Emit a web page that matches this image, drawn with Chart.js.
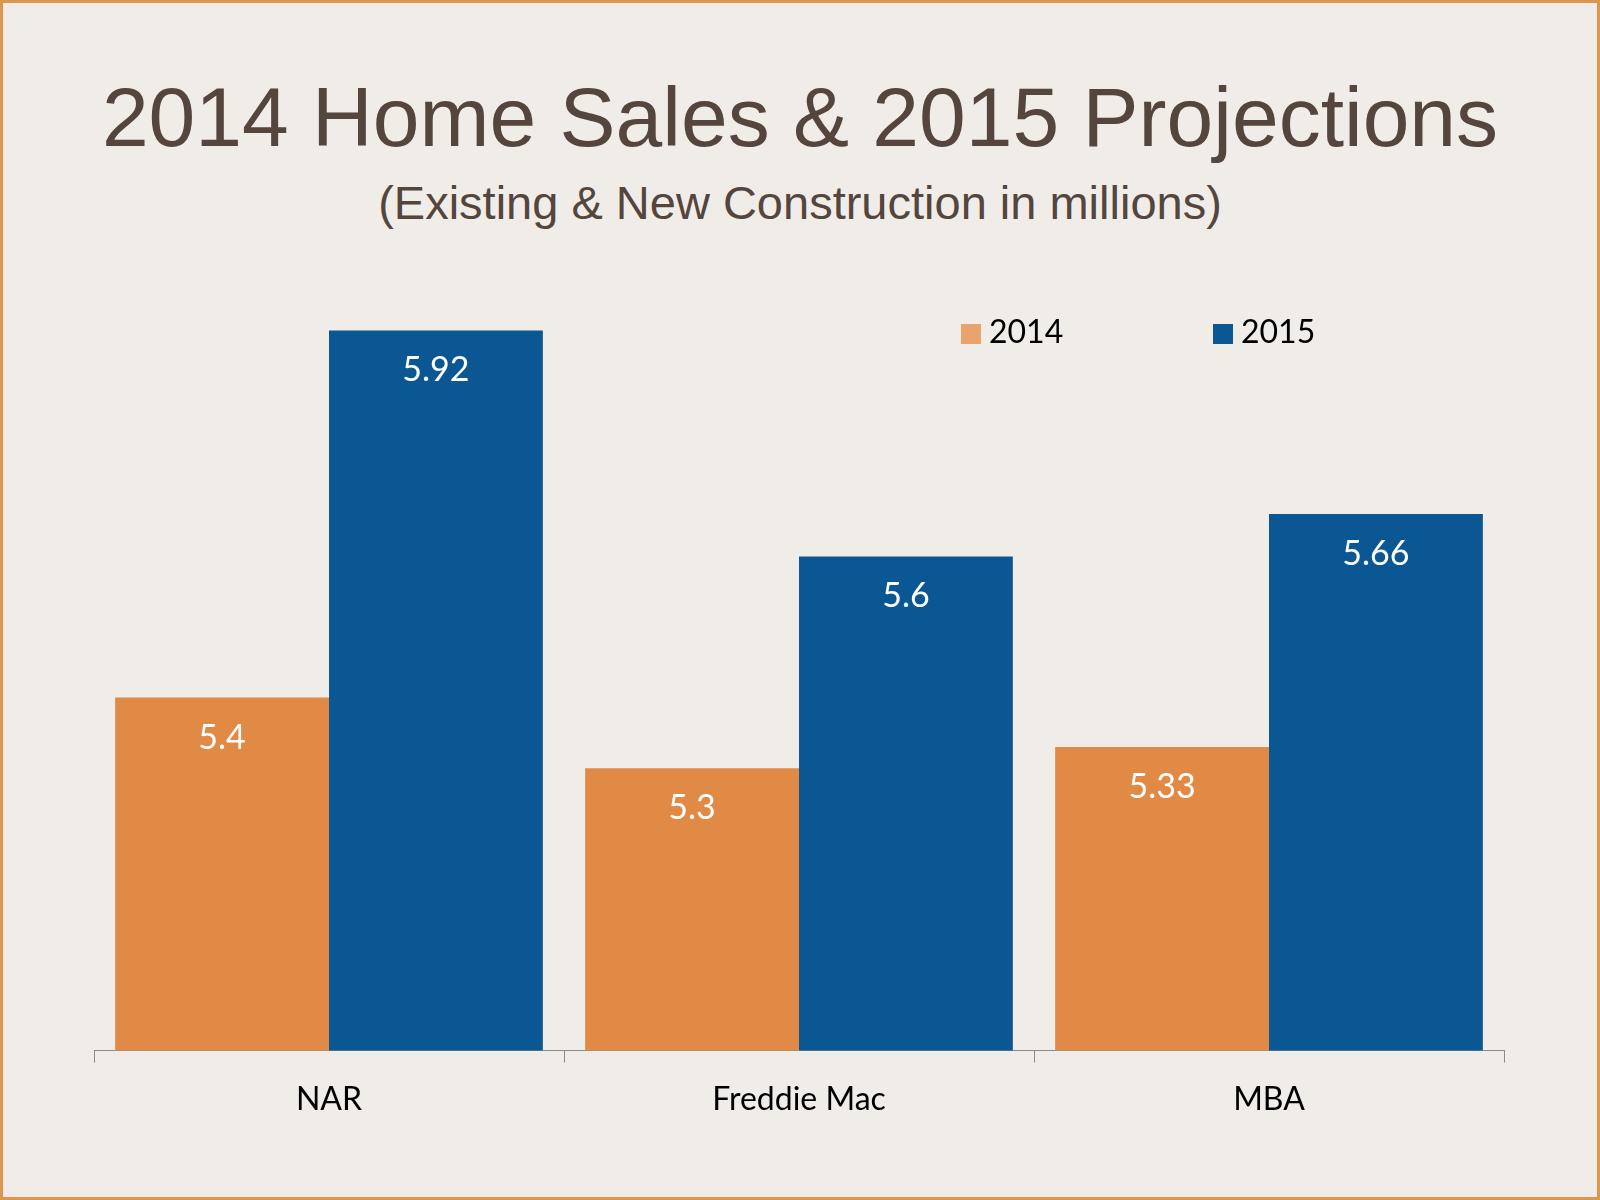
<!DOCTYPE html>
<html>
<head>
<meta charset="utf-8">
<script src="https://cdn.jsdelivr.net/npm/chart.js@4"></script>
<style>
  body { margin: 0; background: #fff; }
  #frame { position: relative; width: 1600px; height: 1200px; box-sizing: border-box;
           border: 3px solid #e0954f; background: #f0ede9; overflow: hidden; }
  #title { position: absolute; top: 66px; width: 100%; text-align: center;
           font-family: "Liberation Sans", Arial, sans-serif; font-size: 84px; color: #54453d; }
  #subtitle { position: absolute; top: 172px; width: 100%; text-align: center;
              font-family: "Liberation Sans", Arial, sans-serif; font-size: 47px; color: #54453d; }
  #legend { position: absolute; top: 308px; left: 958px; font-family: Lato, "Noto Sans", sans-serif;
            font-size: 32px; color: #000; }
  #legend span.item { position: absolute; white-space: nowrap; }
  #legend i { display: inline-block; width: 20px; height: 20px; margin-right: 8px; vertical-align: -1px; }
  canvas { position: absolute; left: 0; top: 0; }
</style>
</head>
<body>
<div id="frame">
  <div id="title">2014 Home Sales &amp; 2015 Projections</div>
  <div id="subtitle">(Existing &amp; New Construction in millions)</div>
  <canvas id="chart" width="1594" height="1194"></canvas>
  <div id="legend"></div>
</div>
<script>
const categories = ['NAR', 'Freddie Mac', 'MBA'];
const seriesNames = ['2014', '2015'];
const sales2014 = [5.4, 5.3, 5.33];
const sales2015 = [5.92, 5.6, 5.66];
const colors = ['#e08a45', '#0b5794'];

// legend drawn as html so it can sit inside the plot area
const legend = document.getElementById('legend');
seriesNames.forEach((name, i) => {
    const s = document.createElement('span');
    s.className = 'item';
    s.style.left = (i * 252) + 'px';
    s.innerHTML = '<i style="background:' + (i === 0 ? '#e8a46c' : colors[1]) + '"></i>' + name;
    legend.appendChild(s);
});

// value labels inside bar tops
const barLabels = {
    id: 'barLabels',
    afterDatasetsDraw(chart) {
        const ctx = chart.ctx;
        ctx.save();
        ctx.fillStyle = '#ffffff';
        ctx.font = '34px Lato, "Noto Sans", sans-serif';
        ctx.textAlign = 'center';
        ctx.textBaseline = 'middle';
        chart.data.datasets.forEach((ds, di) => {
            chart.getDatasetMeta(di).data.forEach((bar, i) => {
                ctx.fillText(String(ds.data[i]), bar.x, bar.y + 40);
            });
        });
        ctx.restore();
    }
};

new Chart(document.getElementById('chart'), {
    type: 'bar',
    data: {
        labels: categories,
        datasets: [
            { label: seriesNames[0], data: sales2014, backgroundColor: colors[0] },
            { label: seriesNames[1], data: sales2015, backgroundColor: colors[1] }
        ]
    },
    options: {
        responsive: false,
        animation: false,
        layout: { padding: { left: 91, right: 93, top: 271, bottom: 60 } },
        plugins: { legend: { display: false }, tooltip: { enabled: false } },
        datasets: { bar: { categoryPercentage: 0.91, barPercentage: 1 } },
        scales: {
            y: { display: false, min: 4.9, max: 6.0 },
            x: {
                grid: { display: true, drawOnChartArea: false, offset: true, tickLength: 12, color: '#8c8c8c' },
                border: { color: '#8c8c8c' },
                ticks: { color: '#000', padding: 18, font: { size: 32, family: 'Lato, "Noto Sans", sans-serif' } }
            }
        }
    },
    plugins: [barLabels]
});
</script>
</body>
</html>
